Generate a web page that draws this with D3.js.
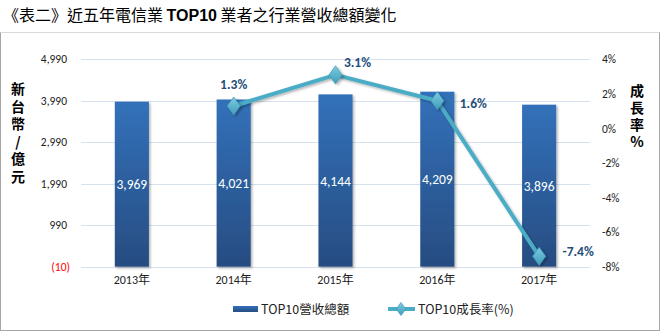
<!DOCTYPE html>
<html><head><meta charset="utf-8">
<script src="https://cdn.jsdelivr.net/npm/d3@7"></script>
<style>body{margin:0;background:#fff}svg{display:block}</style>
</head><body>
<svg id="c" width="660" height="332"></svg>
<script>
const categories = ["2013年","2014年","2015年","2016年","2017年"];
const revenue = [3969, 4021, 4144, 4209, 3896];
const growthYears = ["2014年","2015年","2016年","2017年"];
const growth = [1.3, 3.1, 1.6, -7.4];
const leftTicks = [-10, 990, 1990, 2990, 3990, 4990];
const rightTicks = [4, 2, 0, -2, -4, -6, -8];
const title = ["《表二》近五年電信業 ", "TOP10", " 業者之行業營收總額變化"];
const leftTitle = "新台幣/億元";
const rightTitle = "成長率%";
const legendLabels = ["TOP10營收總額", "TOP10成長率(%)"];

const svg = d3.select("#c");
const CJK = "'Noto Sans CJK TC', 'Noto Sans', sans-serif";
const NUM = "Carlito, Calibri, Lato, 'Noto Sans CJK TC', sans-serif";

const defs = svg.append("defs");
const g1 = defs.append("linearGradient").attr("id","barG").attr("x1",0).attr("y1",0).attr("x2",0).attr("y2",1);
g1.append("stop").attr("offset","0%").attr("stop-color","#3271ba");
g1.append("stop").attr("offset","100%").attr("stop-color","#274c81");
const g2 = defs.append("linearGradient").attr("id","mkG").attr("x1",0).attr("y1",0).attr("x2",0).attr("y2",1);
g2.append("stop").attr("offset","0%").attr("stop-color","#7ccbe0");
g2.append("stop").attr("offset","100%").attr("stop-color","#3f9dbb");
const sh = defs.append("filter").attr("id","sh").attr("x","-20%").attr("y","-20%").attr("width","150%").attr("height","150%");
sh.append("feDropShadow").attr("dx",1.5).attr("dy",1.5).attr("stdDeviation",1.2).attr("flood-color","#000").attr("flood-opacity",0.3);

// frame
svg.append("line").attr("x1",0.5).attr("x2",659.5).attr("y1",32.5).attr("y2",32.5).attr("stroke","#d9d9d9");
svg.append("line").attr("x1",659.5).attr("x2",659.5).attr("y1",32.5).attr("y2",331).attr("stroke","#a6a6a6");
svg.append("line").attr("x1",0.5).attr("x2",0.5).attr("y1",32.5).attr("y2",331).attr("stroke","#a6a6a6");
svg.append("line").attr("x1",0).attr("x2",660).attr("y1",330.5).attr("y2",330.5).attr("stroke","#a6a6a6");

// title
const t = svg.append("text").attr("x",3).attr("y",21).attr("font-size",16).attr("fill","#000").attr("font-family",CJK);
t.append("tspan").text(title[0]);
t.append("tspan").attr("font-family","'Liberation Sans', Arial, sans-serif").attr("font-weight","bold").text(title[1]);
t.append("tspan").text(title[2]);

const x0 = 81, x1 = 590, yTop = 59.3, yBot = 266.7;
const x = d3.scaleBand().domain(categories).range([x0, x1]).paddingInner(0.665).paddingOuter(0.332);
const yL = d3.scaleLinear().domain([-10, 4990]).range([yBot, yTop]);
const yR = d3.scaleLinear().domain([-8, 4]).range([yBot, yTop]);

// gridlines
svg.append("g").selectAll("line").data(leftTicks.slice(1)).join("line")
  .attr("x1",x0).attr("x2",x1).attr("y1",d=>Math.round(yL(d))+0.5).attr("y2",d=>Math.round(yL(d))+0.5)
  .attr("stroke","#d6e0ee").attr("stroke-width",1);

// left axis
const la = svg.append("g").attr("transform",`translate(${x0},0)`)
  .call(d3.axisLeft(yL).tickValues(leftTicks).tickSize(0).tickPadding(14)
    .tickFormat(d => d < 0 ? `(${d3.format(",")(-d)})` : d3.format(",")(d)));
la.select(".domain").remove();
la.selectAll("text").attr("font-family",NUM).attr("font-size",11.5)
  .attr("fill",d=> d<0 ? "#ff0000" : "#222").attr("dx",d=>d<0?3:0);

// right axis
const ra = svg.append("g").attr("transform",`translate(${x1},0)`)
  .call(d3.axisRight(yR).tickValues(rightTicks).tickSize(0).tickPadding(12).tickFormat(d=>d+"%"));
ra.select(".domain").remove();
ra.selectAll("text").attr("font-family",NUM).attr("font-size",11.5).attr("fill","#222");

// bottom axis line
svg.append("line").attr("x1",x0).attr("x2",x1).attr("y1",Math.round(yL(-10))+0.5).attr("y2",Math.round(yL(-10))+0.5)
  .attr("stroke","#d6e0ee");
const ba = svg.append("g").attr("transform",`translate(0,${yBot})`)
  .call(d3.axisBottom(x).tickSize(0).tickPadding(9));
ba.select(".domain").remove();
ba.selectAll("text").attr("font-family",NUM).attr("font-size",12).attr("fill","#222");

// bars
svg.append("g").selectAll("rect").data(revenue).join("rect")
  .attr("x",(d,i)=>x(categories[i])).attr("width",x.bandwidth())
  .attr("y",d=>yL(d)).attr("height",d=>yL(-10)-yL(d))
  .attr("fill","url(#barG)").attr("filter","url(#sh)");
svg.append("g").selectAll("text").data(revenue).join("text")
  .attr("x",(d,i)=>x(categories[i])+x.bandwidth()/2)
  .attr("y",d=>(yL(d)+yL(-10))/2+5)
  .attr("text-anchor","middle").attr("font-family",NUM).attr("font-size",13.5).attr("fill","#fff")
  .text(d=>d3.format(",")(d));

// line
const cx = c => x(c)+x.bandwidth()/2;
const line = d3.line().x((d,i)=>cx(growthYears[i])).y(d=>yR(d));
svg.append("path").datum(growth).attr("d",line).attr("fill","none")
  .attr("stroke","#4bacc6").attr("stroke-width",4).attr("stroke-linejoin","round").attr("filter","url(#sh)");
const diamond = d3.symbol().type(d3.symbolDiamond).size(95);
svg.append("g").selectAll("path").data(growth).join("path")
  .attr("d",diamond).attr("transform",(d,i)=>`translate(${cx(growthYears[i])},${yR(d)}) scale(1.25,1)`)
  .attr("fill","url(#mkG)").attr("stroke","#3e96b4").attr("stroke-width",0.6).attr("filter","url(#sh)");

// line labels
const lblOff = [[0,-22],[22,-13],[36,2],[39,-5]];
svg.append("g").selectAll("text").data(growth).join("text")
  .attr("x",(d,i)=>cx(growthYears[i])+lblOff[i][0])
  .attr("y",(d,i)=>yR(d)+lblOff[i][1]+5)
  .attr("text-anchor","middle").attr("font-family",NUM).attr("font-weight","bold").attr("font-size",13.5)
  .attr("fill","#1f4e79").text(d=>d.toFixed(1)+"%");

// axis titles (vertical)
svg.append("text").attr("x",18).attr("y",82)
  .attr("writing-mode","vertical-rl").style("text-orientation","upright")
  .attr("letter-spacing",3.5)
  .attr("font-family",CJK).attr("font-weight","bold").attr("font-size",14).attr("fill","#000")
  .text(leftTitle);
svg.append("text").attr("x",637).attr("y",84)
  .attr("writing-mode","vertical-rl").style("text-orientation","upright")
  .attr("letter-spacing",2.8)
  .attr("font-family",CJK).attr("font-weight","bold").attr("font-size",14).attr("fill","#000")
  .text(rightTitle);

// legend
const lg = svg.append("g");
lg.append("rect").attr("x",233).attr("y",306).attr("width",25).attr("height",6).attr("fill","url(#barG)");
lg.append("text").attr("x",261).attr("y",314).attr("font-family",CJK).attr("font-size",12.5).attr("fill","#222").text(legendLabels[0]);
lg.append("line").attr("x1",388).attr("x2",415).attr("y1",309).attr("y2",309).attr("stroke","#4bacc6").attr("stroke-width",4);
lg.append("path").attr("d",d3.symbol().type(d3.symbolDiamond).size(50)).attr("transform","translate(401,309) scale(1.25,1)")
  .attr("fill","url(#mkG)").attr("stroke","#3e96b4").attr("stroke-width",0.6);
lg.append("text").attr("x",418).attr("y",314).attr("font-family",CJK).attr("font-size",12.5).attr("fill","#222").text(legendLabels[1]);
</script>
</body></html>
